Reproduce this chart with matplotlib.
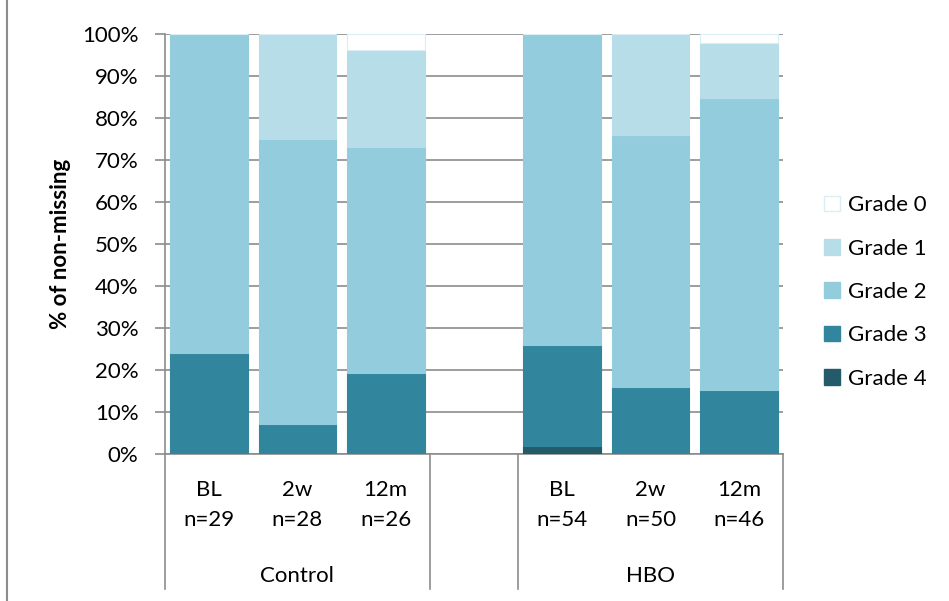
import numpy as np
import matplotlib.pyplot as plt
from matplotlib.lines import Line2D
from matplotlib.patches import Patch

plt.rcParams['font.family'] = ['Lato', 'DejaVu Sans']

# datos (porcentaje de no faltantes); la 4a posicion es el hueco entre grupos
periodos = ["BL", "2w", "12m", "", "BL", "2w", "12m"]
ns = ["n=29", "n=28", "n=26", "", "n=54", "n=50", "n=46"]
grupos = ["Control", "HBO"]
grado4 = [0.0, 0.0, 0.0, 0.0, 1.9, 0.0, 0.0]
grado3 = [24.1, 7.1, 19.2, 0.0, 24.1, 16.0, 15.2]
grado2 = [75.9, 67.9, 53.8, 0.0, 74.1, 60.0, 69.6]
grado1 = [0.0, 25.0, 23.1, 0.0, 0.0, 24.0, 13.0]
grado0 = [0.0, 0.0, 3.9, 0.0, 0.0, 0.0, 2.2]

series = [grado4, grado3, grado2, grado1, grado0]
nombres = ["Grade 4", "Grade 3", "Grade 2", "Grade 1", "Grade 0"]
colores = ["#245b6b", "#31859c", "#93cddd", "#b7dee8", "#ffffff"]
bordes = ["#245b6b", "#31859c", "#93cddd", "#b7dee8", "#daeef3"]

fs = 16

fig = plt.figure(figsize=(9.49, 6.01), dpi=100)
ax = fig.add_axes([165 / 949, 1 - 454 / 601, 618 / 949, 420 / 601])

x = np.arange(len(periodos))
abajo = np.zeros(len(periodos))
for s, nom, c, b in zip(series, nombres, colores, bordes):
    v = np.array(s)
    ax.bar(x, v, 0.88, bottom=abajo, color=c, edgecolor=b, linewidth=0.8,
           label=nom, zorder=3)
    abajo += v

ax.set_xlim(-0.5, 6.5)
ax.set_ylim(0, 100)
ax.set_yticks(np.arange(0, 101, 10))
ax.set_yticklabels([f"{t}%" for t in range(0, 101, 10)], fontsize=fs)
ax.set_xticks([])
ax.grid(axis="y", color="#8c8c8c", linewidth=1.2, zorder=0)
for lado in ["top", "right"]:
    ax.spines[lado].set_visible(False)
ax.spines["left"].set_color("#8c8c8c")
ax.spines["bottom"].set_color("#8c8c8c")
ax.spines["left"].set_linewidth(1.2)
ax.spines["bottom"].set_linewidth(1.2)
ax.tick_params(axis="y", length=7, color="#8c8c8c", width=1.2, pad=12)
ax.set_ylabel("% of non-missing", fontsize=fs, fontweight="bold", labelpad=8)

# eje de categorias en dos niveles
tr = ax.get_xaxis_transform()
for i in range(len(periodos)):
    ax.text(x[i], -0.085, periodos[i], transform=tr, ha="center", va="center", fontsize=fs)
    ax.text(x[i], -0.158, ns[i], transform=tr, ha="center", va="center", fontsize=fs)
ax.text(1, -0.29, grupos[0], transform=tr, ha="center", va="center", fontsize=fs)
ax.text(5, -0.29, grupos[1], transform=tr, ha="center", va="center", fontsize=fs)
for xs in [-0.5, 2.5, 3.5, 6.5]:
    ax.add_line(Line2D([xs, xs], [0, -0.322], transform=tr, color="#8c8c8c",
                       linewidth=1.2, clip_on=False))

# borde del area del grafico
fig.add_artist(Line2D([7 / 949, 7 / 949], [0, 1], transform=fig.transFigure,
                      color="#8c8c8c", linewidth=1.5))

handles = [Patch(facecolor=c, edgecolor=b, label=n)
           for n, c, b in zip(nombres, colores, bordes)][::-1]
fig.legend(handles=handles, loc="center left", bbox_to_anchor=(804 / 949, 1 - 292 / 601),
           frameon=False, fontsize=fs, handlelength=0.7, handleheight=0.7,
           labelspacing=1.05, handletextpad=0.4)

fig.savefig("out.png", dpi=100)
